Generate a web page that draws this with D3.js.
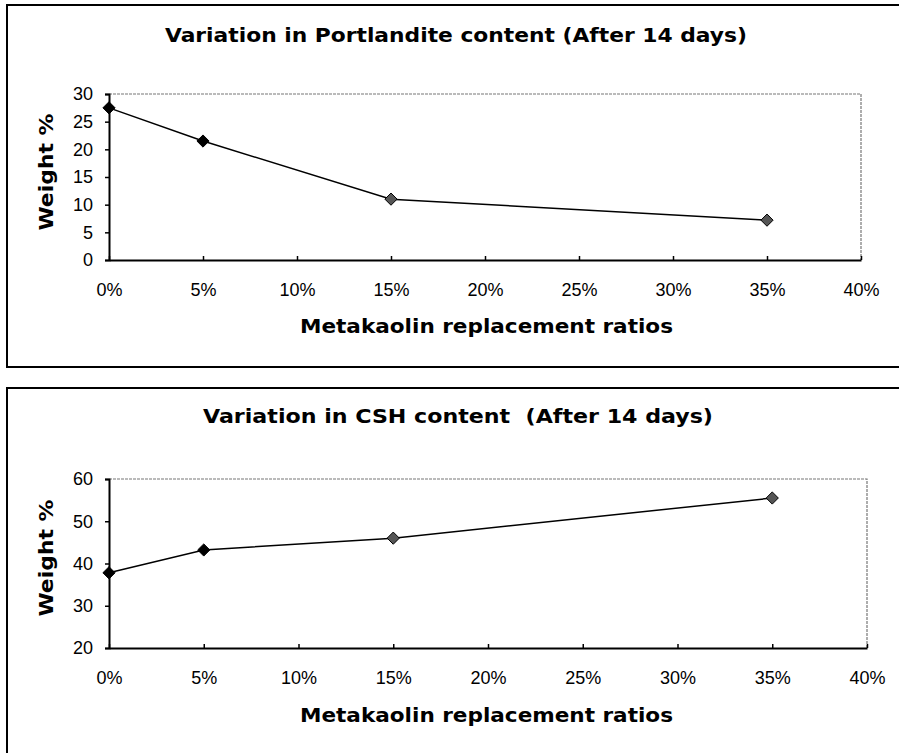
<!DOCTYPE html>
<html>
<head>
<meta charset="utf-8">
<script src="https://cdn.jsdelivr.net/npm/d3@7"></script>
<style>
  body { margin: 0; background: #fff; }
  svg { display: block; }
</style>
</head>
<body>
<svg id="chart" width="899" height="753"></svg>
<script>
// data
var ratios = [0, 5, 15, 35];               // metakaolin %
var portlandite = [27.5, 21.5, 11.0, 7.2]; // weight %
var csh = [37.8, 43.2, 46.0, 55.5];        // weight %
var xTicks = [0, 5, 10, 15, 20, 25, 30, 35, 40];
var portTicks = [0, 5, 10, 15, 20, 25, 30];
var cshTicks = [20, 30, 40, 50, 60];
var titles = ["Variation in Portlandite content (After 14 days)",
              "Variation in CSH content  (After 14 days)"];

var svg = d3.select("svg#chart");

function drawPanel(opt) {
  var g = svg.append("g");

  // panel frame (open to the right, as cropped)
  g.append("path")
    .attr("d", "M899," + opt.frameTop + "H7V" + opt.frameBottom + (opt.closed ? "H899" : ""))
    .attr("fill", "none")
    .attr("stroke", "#000")
    .attr("stroke-width", 2);

  var x = d3.scaleLinear().domain([0, 40]).range([109, opt.right]);
  var y = d3.scaleLinear().domain(opt.yDomain).range([opt.bottom, opt.top]);

  // top & right of plot box
  g.append("path")
    .attr("d", "M" + x(0) + "," + y(opt.yDomain[1]) + "H" + x(40) + "V" + y(opt.yDomain[0]))
    .attr("fill", "none")
    .attr("stroke", "#777")
    .attr("stroke-width", 1.2)
    .attr("stroke-dasharray", "3,1");

  // x axis
  var xAxis = d3.axisBottom(x).tickValues(xTicks).tickSize(0).tickPadding(0)
    .tickFormat(function(d) { return d + "%"; });
  var gx = g.append("g").attr("transform", "translate(0," + y(opt.yDomain[0]) + ")").call(xAxis);
  gx.select(".domain").attr("stroke", "#000").attr("stroke-width", 2);
  gx.selectAll(".tick line").attr("y2", -4).attr("stroke", "#000").attr("stroke-width", 1.5);
  gx.selectAll(".tick text")
    .attr("y", opt.xLabelY - y(opt.yDomain[0]))
    .attr("dy", "0.35em")
    .style("font-family", "Liberation Sans, Arial, sans-serif")
    .style("font-size", "18px")
    .attr("fill", "#000");

  // y axis
  var yAxis = d3.axisLeft(y).tickValues(opt.yTicks).tickSize(4).tickPadding(12);
  var gy = g.append("g").attr("transform", "translate(" + x(0) + ",0)").call(yAxis);
  gy.select(".domain").attr("stroke", "#000").attr("stroke-width", 2);
  gy.selectAll(".tick line").attr("stroke", "#000").attr("stroke-width", 1.5);
  gy.selectAll(".tick text")
    .style("font-family", "Liberation Sans, Arial, sans-serif")
    .style("font-size", "18px")
    .attr("fill", "#000");

  // series line
  var pts = ratios.map(function(r, i) { return [r, opt.values[i]]; });
  g.append("path")
    .datum(pts)
    .attr("fill", "none")
    .attr("stroke", "#000")
    .attr("stroke-width", 1.5)
    .attr("d", d3.line().x(function(d) { return x(d[0]); }).y(function(d) { return y(d[1]); }));

  // diamond markers
  g.selectAll(".marker")
    .data(pts)
    .enter().append("path")
    .attr("class", "marker")
    .attr("transform", function(d) { return "translate(" + x(d[0]) + "," + y(d[1]) + ")"; })
    .attr("d", d3.symbol().type(d3.symbolDiamond2).size(95))
    .attr("fill", function(d, i) { return i < 2 ? "#000" : "#555"; })
    .attr("stroke", "#000")
    .attr("stroke-width", 1);

  // chart title
  g.append("text")
    .attr("x", opt.titleX)
    .attr("y", opt.titleY)
    .attr("textLength", opt.titleLen)
    .attr("lengthAdjust", "spacingAndGlyphs")
    .style("white-space", "pre")
    .style("font-family", "DejaVu Sans, sans-serif")
    .style("font-weight", "bold")
    .style("font-size", "20px")
    .text(opt.title);

  // x axis title
  g.append("text")
    .attr("x", 300)
    .attr("y", opt.xTitleY)
    .attr("textLength", 373)
    .attr("lengthAdjust", "spacingAndGlyphs")
    .style("font-family", "DejaVu Sans, sans-serif")
    .style("font-weight", "bold")
    .style("font-size", "20px")
    .text("Metakaolin replacement ratios");

  // y axis title
  g.append("text")
    .attr("transform", "translate(53," + opt.yTitleY + ") rotate(-90)")
    .attr("text-anchor", "middle")
    .attr("textLength", 117)
    .attr("lengthAdjust", "spacingAndGlyphs")
    .style("font-family", "DejaVu Sans, sans-serif")
    .style("font-weight", "bold")
    .style("font-size", "20px")
    .text("Weight %");
}

drawPanel({
  frameTop: 5, frameBottom: 367, closed: true,
  right: 861, top: 94, bottom: 260,
  yDomain: [0, 30], yTicks: portTicks, values: portlandite,
  xLabelY: 290, title: titles[0], titleX: 165, titleY: 42, titleLen: 582,
  xTitleY: 333, yTitleY: 172
});

drawPanel({
  frameTop: 388, frameBottom: 753, closed: false,
  right: 867, top: 479, bottom: 648,
  yDomain: [20, 60], yTicks: cshTicks, values: csh,
  xLabelY: 678, title: titles[1], titleX: 203, titleY: 423, titleLen: 510,
  xTitleY: 722, yTitleY: 558
});
</script>
</body>
</html>
